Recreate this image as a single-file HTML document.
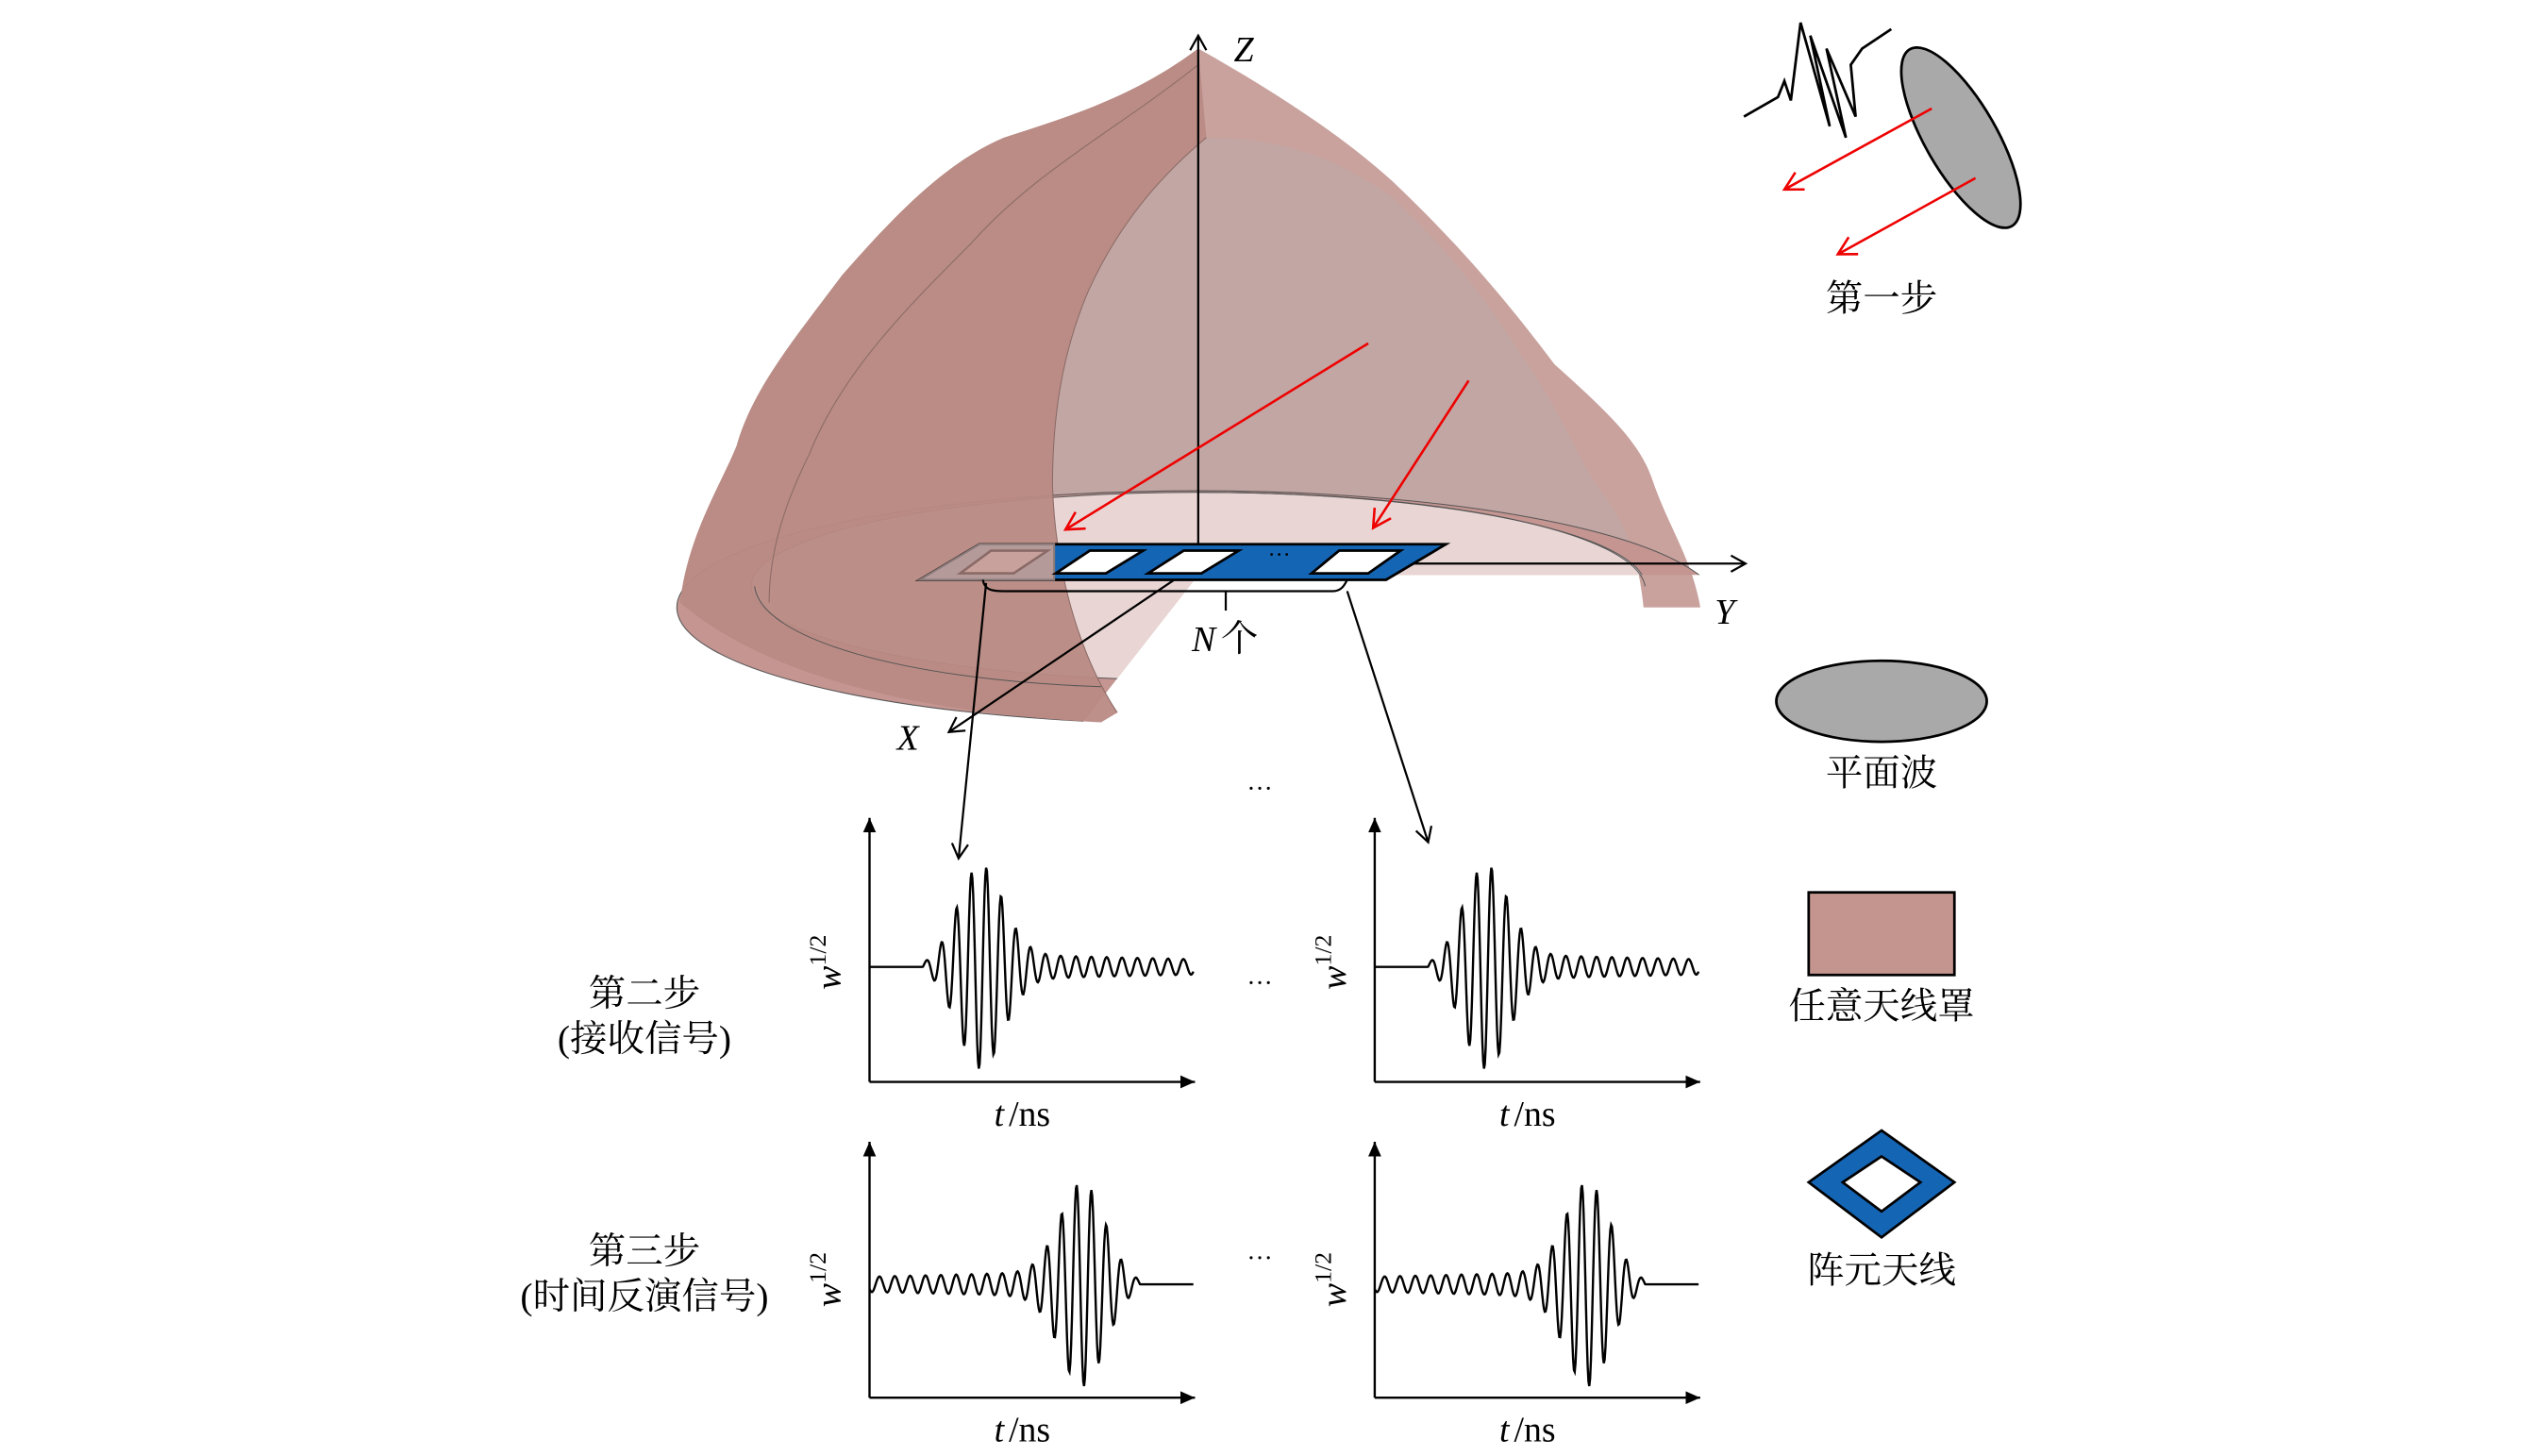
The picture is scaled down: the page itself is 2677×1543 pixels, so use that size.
<!DOCTYPE html>
<html><head><meta charset="utf-8"><style>html,body{margin:0;padding:0;background:#fff}svg{display:block}
.cj{font-family:"Liberation Serif","Noto Serif CJK SC","Noto Sans CJK SC",serif;font-size:23px;fill:#000}
.mi{font-family:"Liberation Serif",serif;font-style:italic;font-size:22px}
</style></head><body>
<svg width="2677" height="1543" viewBox="0 0 1560 899" preserveAspectRatio="none" xmlns="http://www.w3.org/2000/svg">
<defs>
<marker id="ab" markerWidth="12" markerHeight="12" refX="10" refY="6" orient="auto" markerUnits="userSpaceOnUse"><path d="M1,1 L10,6 L1,11" fill="none" stroke="#000" stroke-width="1.3"/></marker>
<marker id="ar" markerWidth="14" markerHeight="14" refX="12" refY="7" orient="auto" markerUnits="userSpaceOnUse"><path d="M1,1 L12,7 L1,13" fill="none" stroke="#e00" stroke-width="1.5"/></marker>
<marker id="af" markerWidth="10" markerHeight="8" refX="9" refY="4" orient="auto" markerUnits="userSpaceOnUse"><path d="M0,0 L9,4 L0,8 Z" fill="#000"/></marker>
<clipPath id="floor"><polygon points="0,0 1560,0 1560,355 740,355 650,470 0,470"/></clipPath>
</defs>

<!-- back interior -->
<path d="M420,372 C425,330 445,300 455,275 C465,240 490,210 520,170 C555,130 585,100 620,85 C660,72 700,60 740,30 C790,58 830,85 860,112 C900,150 930,185 960,225 C990,252 1012,272 1020,295 C1030,325 1045,345 1050,375 L1015,375 L1016,362 C1010,330 900,304 740,304 C580,304 470,330 466,362 Z" fill="#c2a6a3"/>
<!-- right wall band -->
<path d="M740,30 C790,58 830,85 860,112 C900,150 930,185 960,225 C990,252 1012,272 1020,295 C1030,325 1045,345 1050,375 L1015,375 C1012,345 1005,325 990,305 C972,280 965,255 940,220 C915,180 890,150 860,122 C825,97 790,85 745,85 Z" fill="#c9a29d"/>
<!-- floor -->
<g clip-path="url(#floor)">
<ellipse cx="740" cy="375" rx="322" ry="72" fill="#c49591" stroke="#555" stroke-width="0.6"/>
<ellipse cx="740" cy="362" rx="276" ry="58" fill="#e9d6d4" stroke="#555" stroke-width="0.6"/>
</g>
<path d="M740,304 C900,304 1010,330 1016,362" fill="none" stroke="#555" stroke-width="0.6"/>
<!-- left wall front -->
<path d="M420,372 C425,330 445,300 455,275 C465,240 490,210 520,170 C555,130 585,100 620,85 C660,72 700,60 740,30 L745,85 C715,110 690,140 672,180 C655,220 650,260 650,300 C652,360 670,410 690,440 L680,446 C560,440 470,415 420,372 Z" fill="#b98a84" opacity="0.95"/>
<path d="M740,40 C690,80 640,105 600,150 C560,190 520,230 500,280 C485,310 475,340 475,372" fill="none" stroke="#8a6a66" stroke-width="0.6"/>
<path d="M745,85 C715,110 690,140 672,180 C655,220 650,260 650,300 C652,360 670,410 690,440" fill="none" stroke="#8a6a66" stroke-width="0.6"/>
<path d="M466,362 C470,395 560,420 680,424" fill="none" stroke="#555" stroke-width="0.6"/>

<!-- axes -->
<line x1="740" y1="348" x2="740" y2="22" stroke="#000" stroke-width="1.3" marker-end="url(#ab)"/>
<line x1="740" y1="348" x2="1078" y2="348" stroke="#000" stroke-width="1.3" marker-end="url(#ab)"/>
<line x1="740" y1="348" x2="586" y2="452" stroke="#000" stroke-width="1.3" marker-end="url(#ab)"/>
<text x="762" y="38" class="mi">Z</text>
<text x="1059" y="385" class="mi">Y</text>
<text x="554" y="463" class="mi">X</text>

<!-- array -->
<polygon points="605,336 893,336 856,358 568,358" fill="#1565b5" stroke="#000" stroke-width="1.6"/>
<polygon points="568,358 605,336 651,336 651,358" fill="#b59a9a" stroke="#8a7a7a" stroke-width="1.2"/>
<polygon points="612,340 647,340 626,354 593,354" fill="#c9a19c" stroke="#8a6a66" stroke-width="1.5"/>
<polygon points="673,340 706,340 683,354 652,354" fill="#fff" stroke="#000" stroke-width="1.6"/>
<polygon points="731,340 765,340 742,354 709,354" fill="#fff" stroke="#000" stroke-width="1.6"/>
<polygon points="827,340 865,340 845,354 810,354" fill="#fff" stroke="#000" stroke-width="1.6"/>
<text x="790" y="347" font-size="14" text-anchor="middle" font-family="Liberation Serif">···</text>
<path d="M607,358 C608,364 612,365 620,365 L823,365 C828,365 830,362 832,358" fill="none" stroke="#000" stroke-width="1.3"/>
<line x1="757" y1="365" x2="757" y2="377" stroke="#000" stroke-width="1.3"/>
<text x="736" y="402" class="mi">N</text><text x="754" y="402" class="cj">个</text>
<line x1="609" y1="360" x2="592" y2="530" stroke="#000" stroke-width="1.3" marker-end="url(#ab)"/>
<line x1="832" y1="365" x2="882" y2="520" stroke="#000" stroke-width="1.3" marker-end="url(#ab)"/>

<!-- red arrows -->
<line x1="845" y1="212" x2="658" y2="327" stroke="#e00" stroke-width="1.5" marker-end="url(#ar)"/>
<line x1="907" y1="235" x2="848" y2="326" stroke="#e00" stroke-width="1.5" marker-end="url(#ar)"/>

<!-- step one icon -->
<ellipse cx="1211" cy="85" rx="22" ry="63" transform="rotate(-30 1211 85)" fill="#a9a9a9" stroke="#000" stroke-width="1.6"/>
<line x1="1193" y1="67" x2="1102" y2="117" stroke="#e00" stroke-width="1.5" marker-end="url(#ar)"/>
<line x1="1220" y1="110" x2="1135" y2="157" stroke="#e00" stroke-width="1.5" marker-end="url(#ar)"/>
<polyline points="1077,72 1098,60 1102,50 1106,62 1112,14 1130,78 1118,22 1140,85 1128,30 1146,72 1143,40 1150,30 1168,18" fill="none" stroke="#000" stroke-width="1.6"/>
<text x="1162" y="192" class="cj" text-anchor="middle">第一步</text>

<!-- legend -->
<ellipse cx="1162" cy="433" rx="65" ry="25" fill="#a9a9a9" stroke="#000" stroke-width="1.6"/>
<text x="1162" y="485" class="cj" text-anchor="middle">平面波</text>
<rect x="1117" y="551" width="90" height="51" fill="#c4958f" stroke="#000" stroke-width="1.6"/>
<text x="1162" y="629" class="cj" text-anchor="middle">任意天线罩</text>
<polygon points="1162,698 1207,730 1162,764 1117,730" fill="#1565b5" stroke="#000" stroke-width="1.6"/>
<polygon points="1162,714 1186,730 1162,748 1138,730" fill="#fff" stroke="#000" stroke-width="1.6"/>
<text x="1162" y="792" class="cj" text-anchor="middle">阵元天线</text>

<text x="778" y="492" font-size="16" text-anchor="middle" font-family="Liberation Serif">···</text>
<text x="778" y="612" font-size="16" text-anchor="middle" font-family="Liberation Serif">···</text>
<text x="778" y="782" font-size="16" text-anchor="middle" font-family="Liberation Serif">···</text>

<text x="398" y="621" class="cj" text-anchor="middle">第二步</text>
<text x="398" y="649" class="cj" text-anchor="middle">(接收信号)</text>
<text x="398" y="780" class="cj" text-anchor="middle">第三步</text>
<text x="398" y="808" class="cj" text-anchor="middle">(时间反演信号)</text>

<g id="plots" stroke="#000" fill="none"></g>
<g id="lbls"></g>
</svg>
<script>
(function(){
var g=document.getElementById('plots'),L=document.getElementById('lbls'),NS='http://www.w3.org/2000/svg';
function el(p,t,a,txt){var e=document.createElementNS(NS,t);for(var k in a)e.setAttribute(k,a[k]);if(txt)e.textContent=txt;p.appendChild(e);return e;}
function sig(t){
  var x=t*170, v=0;
  if(x>28){var u=x-28; v+=Math.sin(u*0.8)*Math.exp(-Math.pow((u-30)/17,2))*1.0;}
  if(x>50){v+=Math.sin((x-50)*0.78)*0.12*Math.exp(-(x-80)/200)*(x>80?1:(x-50)/30);}
  return v;}
function plot(x0,yTop,yBase,yAx,rev){
  el(g,'line',{x1:x0,y1:yAx,x2:x0,y2:yTop,'stroke-width':1.4,'marker-end':'url(#af)'});
  el(g,'line',{x1:x0,y1:yAx,x2:x0+201,y2:yAx,'stroke-width':1.4,'marker-end':'url(#af)'});
  var d='';
  for(var i=0;i<=200;i+=0.5){var t=rev?(200-i):i; var v=sig(t/200);
    var y=yBase - v*62; d+=(i?'L':'M')+(x0+i).toFixed(1)+','+y.toFixed(1);}
  el(g,'path',{d:d,'stroke-width':1.4});
  el(L,'text',{x:x0+77,y:yAx+27,'class':'mi'},'t');
  el(L,'text',{x:x0+86,y:yAx+27,'font-family':'Liberation Serif','font-size':22},'/ns');
  var tx=el(L,'text',{x:0,y:0,transform:'translate('+(x0-18)+','+(yBase+14)+') rotate(-90)','font-family':'Liberation Serif','font-size':22,'font-style':'italic'},'w');
  el(tx,'tspan',{'font-size':15,dy:-9,'font-style':'normal'},'1/2');
}
plot(537,505,597,668,false);
plot(849,505,597,668,false);
plot(537,705,793,863,true);
plot(849,705,793,863,true);
})();
</script>
</body></html>
